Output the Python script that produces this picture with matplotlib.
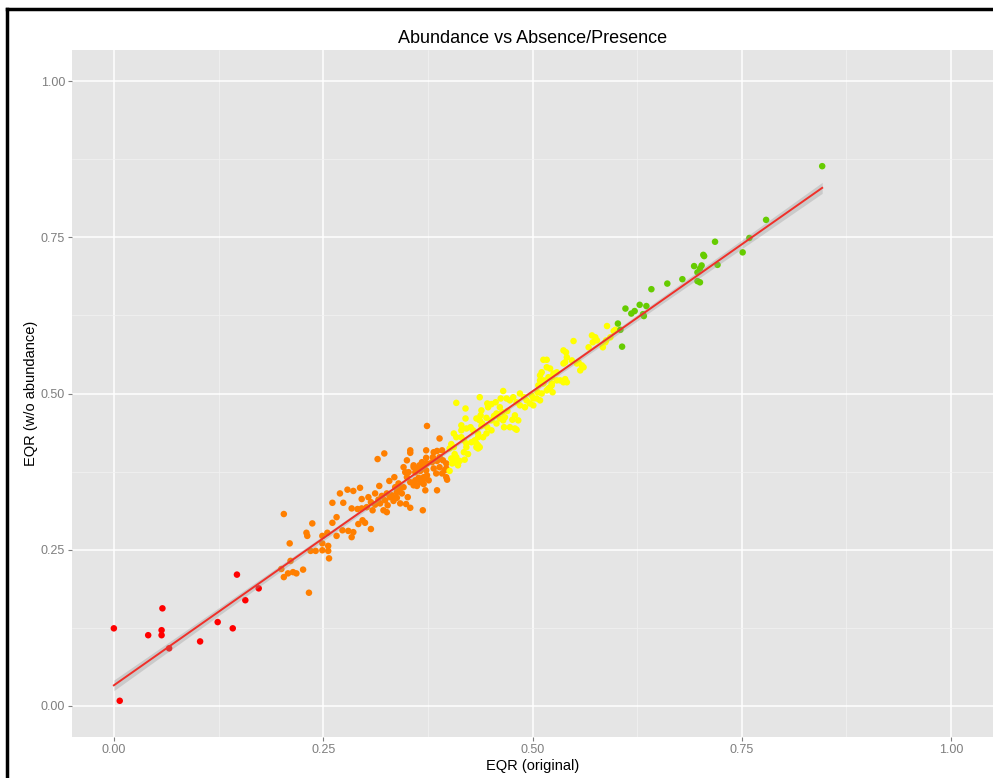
import matplotlib
matplotlib.use('Agg')
import matplotlib.pyplot as plt
import numpy as np
from matplotlib.lines import Line2D
from matplotlib.ticker import MultipleLocator

plt.rcParams['font.family'] = ['Liberation Sans', 'DejaVu Sans']

# EQR (original) vs EQR (w/o abundance), grouped by quality class of the original EQR
red_x = [0.000, 0.007, 0.041, 0.058, 0.057, 0.057, 0.066, 0.103, 0.124, 0.142, 0.147, 0.157, 0.173]
red_y = [0.124, 0.008, 0.113, 0.156, 0.121, 0.113, 0.092, 0.103, 0.134, 0.124, 0.210, 0.169, 0.188]

orange_x = [0.200, 0.203, 0.208, 0.214, 0.218, 0.226, 0.233, 0.203, 0.210, 0.211, 0.230, 0.231,
            0.237, 0.235, 0.241, 0.249, 0.256, 0.249, 0.256, 0.257, 0.249, 0.255, 0.261, 0.266,
            0.261, 0.266, 0.270, 0.274, 0.279, 0.286, 0.294, 0.273, 0.280, 0.286, 0.284, 0.284,
            0.291, 0.296, 0.302, 0.296, 0.304, 0.307, 0.309, 0.292, 0.297, 0.300, 0.307, 0.315,
            0.323, 0.317, 0.318, 0.324, 0.327, 0.330, 0.326, 0.329, 0.335, 0.322, 0.326, 0.332,
            0.338, 0.342, 0.336, 0.340, 0.346, 0.342, 0.349, 0.354, 0.351, 0.346, 0.350, 0.354,
            0.348, 0.350, 0.354, 0.358, 0.362, 0.360, 0.364, 0.366, 0.370, 0.358, 0.362, 0.365,
            0.368, 0.370, 0.373, 0.374, 0.373, 0.370, 0.366, 0.360, 0.376, 0.373, 0.374, 0.370,
            0.372, 0.369, 0.354, 0.389, 0.382, 0.386, 0.392, 0.352, 0.358, 0.374, 0.380, 0.386,
            0.381, 0.389, 0.393, 0.397, 0.389, 0.382, 0.385, 0.392, 0.395, 0.397, 0.398, 0.397,
            0.386, 0.312, 0.316, 0.320, 0.334, 0.338, 0.344, 0.312]
orange_y = [0.219, 0.206, 0.212, 0.214, 0.212, 0.218, 0.181, 0.307, 0.260, 0.232, 0.277, 0.272,
            0.292, 0.248, 0.248, 0.249, 0.248, 0.260, 0.256, 0.236, 0.272, 0.277, 0.293, 0.302,
            0.325, 0.272, 0.340, 0.325, 0.346, 0.344, 0.349, 0.281, 0.280, 0.278, 0.270, 0.316,
            0.315, 0.316, 0.318, 0.331, 0.334, 0.326, 0.313, 0.291, 0.297, 0.293, 0.283, 0.395,
            0.404, 0.352, 0.324, 0.329, 0.321, 0.334, 0.340, 0.360, 0.366, 0.313, 0.310, 0.337,
            0.342, 0.348, 0.350, 0.356, 0.350, 0.324, 0.323, 0.317, 0.334, 0.382, 0.393, 0.405,
            0.374, 0.366, 0.358, 0.353, 0.352, 0.361, 0.365, 0.358, 0.363, 0.385, 0.380, 0.385,
            0.390, 0.384, 0.377, 0.369, 0.397, 0.366, 0.376, 0.374, 0.361, 0.409, 0.448, 0.355,
            0.345, 0.313, 0.409, 0.428, 0.406, 0.408, 0.409, 0.374, 0.382, 0.388, 0.390, 0.392,
            0.398, 0.398, 0.393, 0.388, 0.382, 0.380, 0.372, 0.372, 0.377, 0.366, 0.362, 0.380,
            0.345, 0.322, 0.330, 0.336, 0.328, 0.333, 0.340, 0.340]

yellow_x = [0.409, 0.420, 0.437, 0.420, 0.406, 0.409, 0.403, 0.401, 0.406, 0.407, 0.403, 0.409,
            0.407, 0.413, 0.411, 0.404, 0.401, 0.415, 0.421, 0.426, 0.429, 0.415, 0.418, 0.421,
            0.427, 0.431, 0.435, 0.418, 0.423, 0.419, 0.421, 0.435, 0.435, 0.433, 0.437, 0.440,
            0.445, 0.446, 0.451, 0.457, 0.454, 0.461, 0.439, 0.446, 0.451, 0.456, 0.462, 0.465,
            0.461, 0.464, 0.467, 0.470, 0.473, 0.477, 0.481, 0.479, 0.476, 0.481, 0.473, 0.466,
            0.445, 0.441, 0.451, 0.485, 0.491, 0.497, 0.501, 0.506, 0.493, 0.485, 0.490, 0.438,
            0.447, 0.469, 0.457, 0.439, 0.435, 0.433, 0.415, 0.433, 0.437, 0.483, 0.479, 0.465,
            0.499, 0.505, 0.501, 0.507, 0.509, 0.513, 0.519, 0.523, 0.511, 0.517, 0.521, 0.523,
            0.529, 0.537, 0.541, 0.539, 0.533, 0.537, 0.539, 0.549, 0.537, 0.529, 0.523, 0.513,
            0.517, 0.509, 0.513, 0.519, 0.525, 0.517, 0.511, 0.509, 0.547, 0.555, 0.557, 0.561,
            0.559, 0.571, 0.575, 0.572, 0.577, 0.584, 0.589, 0.588, 0.593, 0.597, 0.599, 0.567,
            0.587, 0.540, 0.553, 0.541, 0.521, 0.524]
yellow_y = [0.485, 0.476, 0.494, 0.460, 0.436, 0.430, 0.419, 0.412, 0.414, 0.403, 0.396, 0.398,
            0.390, 0.392, 0.385, 0.388, 0.376, 0.449, 0.444, 0.446, 0.441, 0.441, 0.425, 0.420,
            0.422, 0.425, 0.430, 0.406, 0.403, 0.394, 0.414, 0.417, 0.412, 0.460, 0.457, 0.452,
            0.461, 0.446, 0.457, 0.452, 0.464, 0.460, 0.473, 0.484, 0.483, 0.486, 0.492, 0.504,
            0.478, 0.470, 0.462, 0.472, 0.489, 0.494, 0.486, 0.465, 0.458, 0.442, 0.446, 0.446,
            0.436, 0.430, 0.441, 0.481, 0.478, 0.484, 0.492, 0.502, 0.489, 0.500, 0.494, 0.465,
            0.478, 0.492, 0.468, 0.448, 0.436, 0.420, 0.430, 0.414, 0.414, 0.457, 0.444, 0.457,
            0.497, 0.492, 0.481, 0.513, 0.521, 0.516, 0.508, 0.516, 0.534, 0.542, 0.540, 0.526,
            0.534, 0.569, 0.558, 0.550, 0.521, 0.518, 0.523, 0.584, 0.548, 0.521, 0.513, 0.554,
            0.554, 0.529, 0.521, 0.526, 0.532, 0.505, 0.500, 0.489, 0.553, 0.550, 0.537, 0.542,
            0.545, 0.593, 0.590, 0.582, 0.585, 0.574, 0.608, 0.585, 0.590, 0.600, 0.602, 0.574,
            0.582, 0.566, 0.548, 0.518, 0.510, 0.502]

green_x = [0.846, 0.779, 0.759, 0.751, 0.718, 0.704, 0.705, 0.721, 0.693, 0.702, 0.700, 0.697,
           0.697, 0.700, 0.679, 0.661, 0.642, 0.611, 0.618, 0.622, 0.628, 0.636, 0.632, 0.633,
           0.602, 0.605, 0.607]
green_y = [0.864, 0.778, 0.749, 0.726, 0.743, 0.722, 0.720, 0.706, 0.704, 0.705, 0.700, 0.694,
           0.680, 0.678, 0.683, 0.676, 0.667, 0.636, 0.628, 0.632, 0.642, 0.640, 0.627, 0.624,
           0.612, 0.602, 0.575]

groups = [
    (red_x, red_y, '#FF0000'),
    (orange_x, orange_y, '#FF7F00'),
    (yellow_x, yellow_y, '#FFFF00'),
    (green_x, green_y, '#66CC00'),
]

ticks = [0.0, 0.25, 0.5, 0.75, 1.0]
tick_labels = ['0.00', '0.25', '0.50', '0.75', '1.00']

fig = plt.figure(figsize=(9.93, 7.78), dpi=100)
ax = fig.add_axes([72 / 993, 1 - 737 / 778, 921 / 993, 687 / 778])
ax.set_facecolor('#E5E5E5')
for s in ax.spines.values():
    s.set_visible(False)

for gx, gy, col in groups:
    ax.scatter(gx, gy, s=22, c=col, edgecolors='none', zorder=3)

# linear fit with 95% confidence band (like geom_smooth(method = "lm"))
all_x = np.concatenate([np.array(g[0]) for g in groups])
all_y = np.concatenate([np.array(g[1]) for g in groups])
slope, intercept = np.polyfit(all_x, all_y, 1)
n = len(all_x)
resid = all_y - (intercept + slope * all_x)
s_err = np.sqrt(np.sum(resid ** 2) / (n - 2))
xs = np.linspace(all_x.min(), all_x.max(), 100)
fit = intercept + slope * xs
se = s_err * np.sqrt(1 / n + (xs - all_x.mean()) ** 2 / np.sum((all_x - all_x.mean()) ** 2))
ax.fill_between(xs, fit - 1.97 * se, fit + 1.97 * se, color='#999999', alpha=0.35, lw=0, zorder=4)
ax.plot(xs, fit, color='#F0302A', lw=1.4, zorder=5)

ax.set_xlim(-0.05, 1.05)
ax.set_ylim(-0.05, 1.05)
ax.set_xticks(ticks)
ax.set_yticks(ticks)
ax.set_xticklabels(tick_labels)
ax.set_yticklabels(tick_labels)
ax.xaxis.set_minor_locator(MultipleLocator(0.125))
ax.yaxis.set_minor_locator(MultipleLocator(0.125))
ax.grid(which='major', color='white', lw=1.1)
ax.grid(which='minor', color='#F2F2F2', lw=0.5)
ax.set_axisbelow(True)
ax.tick_params(which='major', length=3, width=0.8, color='#7F7F7F',
               labelcolor='#7F7F7F', labelsize=9, pad=2)
ax.tick_params(which='minor', length=0)

ax.set_title('Abundance vs Absence/Presence', fontsize=13, pad=5)
ax.set_xlabel('EQR (original)', fontsize=10.5, labelpad=2)
ax.set_ylabel('EQR (w/o abundance)', fontsize=10.5, labelpad=2)

# black frame of the screenshot
fx = 7 / 993
fy = 1 - 9 / 778
fig.add_artist(Line2D([fx, fx], [0, fy], transform=fig.transFigure, color='black', lw=2.5,
                      solid_capstyle='projecting'))
fig.add_artist(Line2D([fx, 1], [fy, fy], transform=fig.transFigure, color='black', lw=2.5,
                      solid_capstyle='projecting'))

fig.savefig('out.png', dpi=100)
